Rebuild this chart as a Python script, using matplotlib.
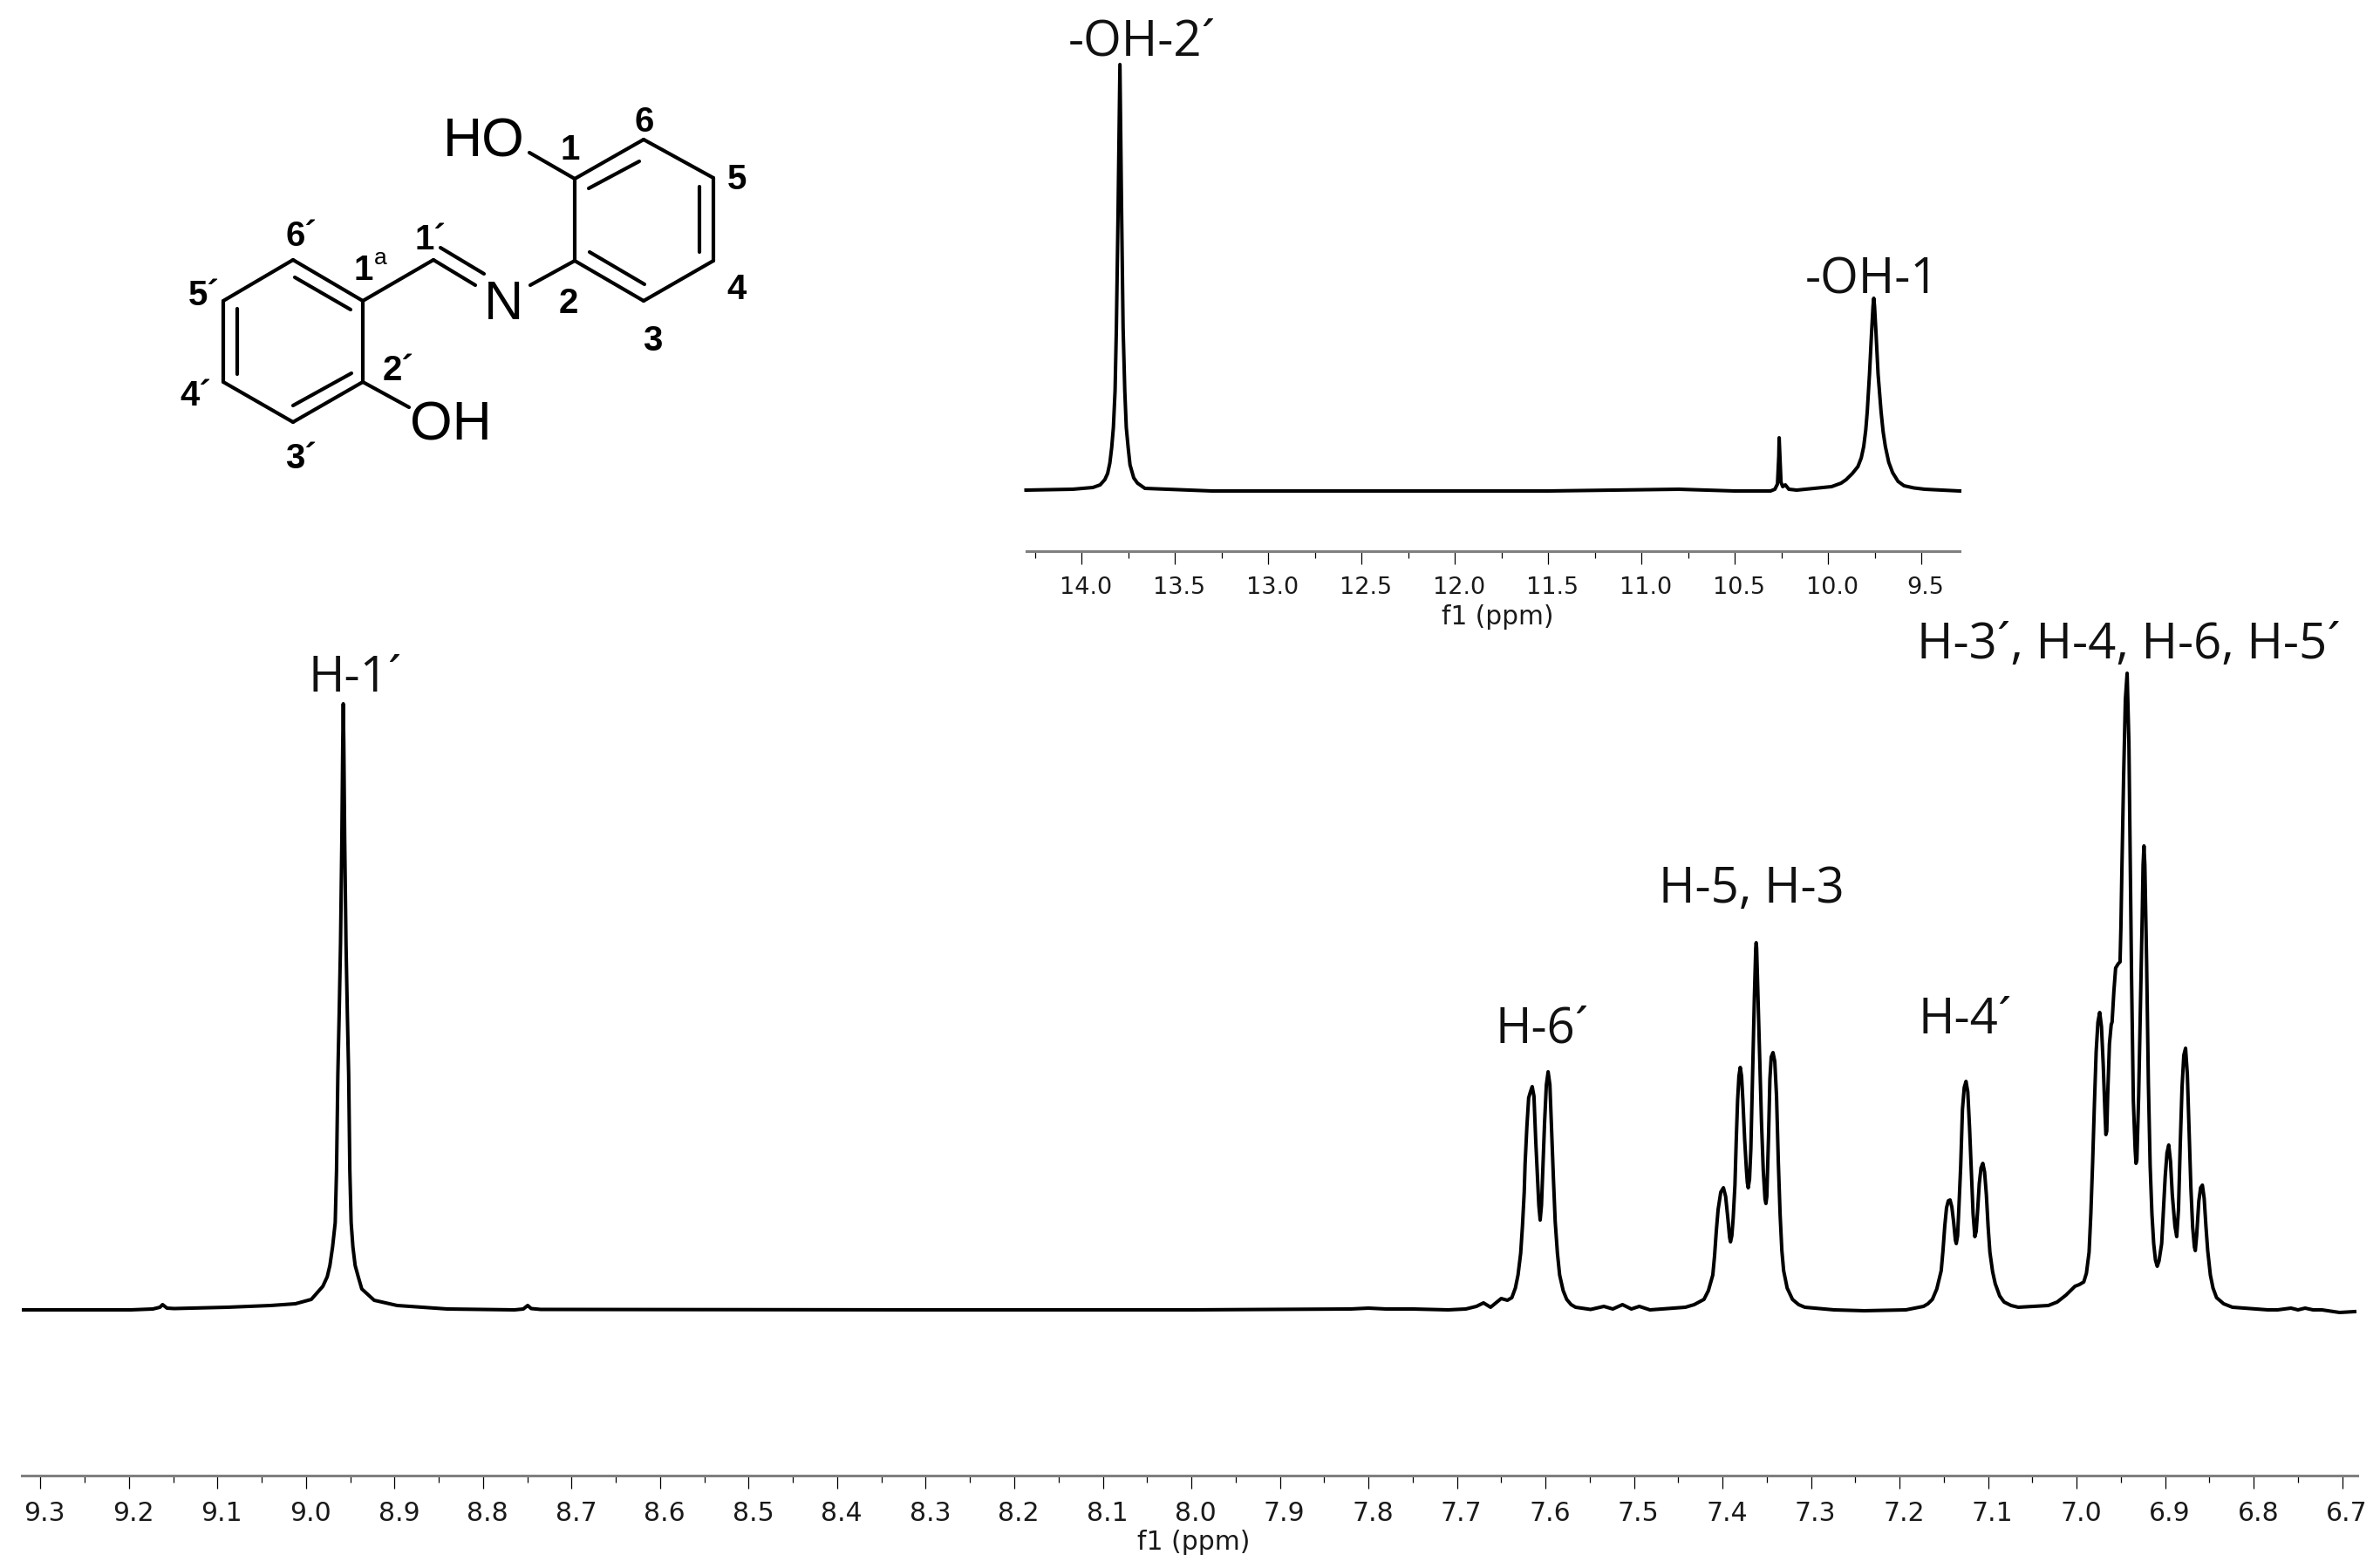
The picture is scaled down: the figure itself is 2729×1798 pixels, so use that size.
import matplotlib
matplotlib.use('Agg')
import matplotlib.pyplot as plt
import matplotlib.transforms as mtrans
import numpy as np

W, H = 2729, 1799

# main spectrum, one stretch at a time
left_ppm = [9.319, 9.198, 9.173, 9.165, 9.162, 9.157, 9.149, 9.089, 9.040, 9.012, 8.994, 8.981, 8.976, 8.973, 8.970,
            8.967, 8.9655, 8.9640, 8.9625, 8.9610, 8.9595, 8.9585, 8.9579, 8.9573, 8.9563, 8.9548, 8.9533, 8.9518,
            8.9505, 8.949, 8.947, 8.9445, 8.941, 8.937, 8.923, 8.897, 8.8403, 8.7644, 8.7546, 8.7496, 8.7457, 8.735,
            8.30, 8.00, 7.82, 7.80, 7.78, 7.75, 7.710, 7.690, 7.678, 7.670, 7.662, 7.650, 7.643]
left_int = [0, 0, 1, 3, 6, 2, 1.5, 3, 5, 7, 12, 27, 38, 51, 72,
            100, 160, 270, 340, 420, 540, 650, 695, 650, 540, 420, 340, 270,
            160, 100, 72, 51, 38, 24, 11, 5, 1, 0, 1, 5, 1.5, 0.5,
            0, 0, 1, 2, 1, 1, 0, 1, 4, 8, 3, 13, 11]

h6_ppm = [7.638, 7.634, 7.631, 7.628, 7.626, 7.624, 7.623, 7.621, 7.619, 7.617, 7.615, 7.613, 7.611, 7.6075, 7.606,
          7.6045, 7.603, 7.601, 7.599, 7.597, 7.595, 7.593, 7.591, 7.589, 7.5865, 7.584, 7.580, 7.576, 7.571, 7.566]
h6_int = [14, 25, 40, 65, 96, 135, 168, 210, 243, 250, 256, 245, 194, 120, 103,
          120, 160, 215, 258, 273, 258, 204, 150, 101, 65, 40, 22, 12, 6, 3]

gap1_ppm = [7.549, 7.534, 7.524, 7.513, 7.503, 7.494, 7.482]
gap1_int = [0.5, 4, 1, 6, 1, 4, 0]

h53_ppm = [7.442, 7.432, 7.421, 7.416, 7.411, 7.409, 7.407, 7.405, 7.402, 7.399, 7.3965, 7.394, 7.392, 7.391, 7.3895,
           7.388, 7.386, 7.3845, 7.383, 7.3815, 7.380, 7.3785, 7.377, 7.375, 7.373, 7.372, 7.371, 7.3695, 7.368,
           7.366, 7.364, 7.3625, 7.362, 7.3615, 7.360, 7.358, 7.356, 7.354, 7.352, 7.351, 7.350, 7.348, 7.3465,
           7.345, 7.343, 7.341, 7.339, 7.337, 7.335, 7.333, 7.331, 7.327, 7.321, 7.314, 7.307]
h53_int = [3, 6, 12, 22, 40, 62, 91, 115, 135, 140, 130, 105, 83, 78, 85,
           105, 143, 195, 240, 268, 278, 268, 240, 195, 160, 146, 140, 150, 185,
           271, 360, 415, 421, 415, 360, 290, 215, 160, 127, 122, 130, 200, 265,
           290, 295, 285, 245, 170, 110, 68, 45, 25, 12, 6, 3]

gap2_ppm = [7.274, 7.240, 7.193]
gap2_int = [0, -1, 0]

h4_ppm = [7.173, 7.168, 7.163, 7.158, 7.153, 7.151, 7.149, 7.147, 7.145, 7.143, 7.141, 7.139, 7.137, 7.136, 7.1345,
          7.133, 7.131, 7.129, 7.127, 7.125, 7.123, 7.121, 7.119, 7.117, 7.115, 7.1135, 7.112, 7.110, 7.108, 7.106,
          7.104, 7.102, 7.100, 7.098, 7.095, 7.092, 7.087, 7.082, 7.074, 7.066]
h4_int = [4, 7, 12, 24, 45, 68, 96, 117, 125, 126, 118, 101, 80, 76, 85,
          118, 165, 230, 255, 262, 250, 209, 160, 110, 84, 90, 112, 145, 163, 168,
          158, 132, 95, 66, 44, 30, 16, 9, 5, 3]

group_ppm = [7.032, 7.022, 7.012, 7.007, 7.002, 6.997, 6.992, 6.989, 6.986, 6.984, 6.982, 6.980, 6.978, 6.976, 6.974,
             6.972, 6.970, 6.968, 6.967, 6.966, 6.965, 6.963, 6.961, 6.960, 6.958, 6.956, 6.953, 6.951, 6.950, 6.949,
             6.947, 6.945, 6.943, 6.941, 6.940, 6.938, 6.936, 6.934, 6.933, 6.932, 6.930, 6.928, 6.926, 6.925, 6.924,
             6.923, 6.921, 6.919, 6.917, 6.915, 6.913, 6.911, 6.909, 6.907, 6.904, 6.902, 6.900, 6.898, 6.896, 6.894,
             6.892, 6.889, 6.887, 6.885, 6.883, 6.881, 6.879, 6.877, 6.875, 6.873, 6.871, 6.869, 6.867, 6.866, 6.8645,
             6.862, 6.860, 6.858, 6.856, 6.854, 6.852, 6.849, 6.846, 6.842, 6.834, 6.824]
group_int = [5, 9, 17, 22, 27, 29, 32, 42, 66, 110, 168, 235, 296, 330, 341,
             325, 281, 225, 201, 205, 245, 305, 327, 330, 365, 392, 397, 399, 440, 501,
             610, 700, 730, 650, 560, 380, 240, 185, 168, 172, 245, 345, 450, 510, 532,
             510, 399, 260, 165, 110, 76, 57, 50, 56, 76, 115, 153, 180, 189, 170,
             132, 96, 84, 115, 190, 255, 292, 300, 270, 205, 140, 95, 72, 68, 85,
             125, 140, 143, 128, 96, 68, 40, 25, 14, 7, 3]

right_ppm = [6.784, 6.773, 6.758, 6.750, 6.742, 6.733, 6.723, 6.703, 6.686]
right_int = [0, 0, 2, 0, 2, 0, 0, -3, -2]

main_ppm = left_ppm + h6_ppm + gap1_ppm + h53_ppm + gap2_ppm + h4_ppm + group_ppm + right_ppm
main_int = left_int + h6_int + gap1_int + h53_int + gap2_int + h4_int + group_int + right_int

# inset spectrum (OH region)
inset_ppm = [14.297, 14.047, 13.939, 13.90, 13.875, 13.860, 13.848, 13.838, 13.829, 13.82, 13.813, 13.804, 13.794,
             13.785, 13.777, 13.768, 13.76, 13.75, 13.74, 13.72, 13.70, 13.66,
             13.3, 12.5, 11.5, 10.8, 10.5, 10.308, 10.285, 10.271, 10.264, 10.262, 10.258, 10.252, 10.243, 10.229,
             10.210, 10.168, 9.981, 9.93, 9.903, 9.87, 9.84, 9.822, 9.809, 9.798, 9.79, 9.778, 9.767, 9.759, 9.755,
             9.751, 9.743, 9.732, 9.716, 9.705, 9.693, 9.675, 9.654, 9.625, 9.593, 9.54, 9.482, 9.295]
inset_int = [1, 2, 4, 7, 13, 20, 32, 50, 73, 115, 187, 319, 489,
             319, 187, 115, 73, 50, 30, 15, 9, 3,
             0, 0, 0, 2, 0, 0, 2, 8, 40, 61, 40, 10, 5, 7,
             2, 1, 5, 9, 13, 20, 28, 38, 51, 70, 91, 134, 181, 212, 221,
             212, 181, 134, 91, 68, 51, 33, 21, 11, 6, 3.5, 2, 0]

main_ticks = [9.3, 9.2, 9.1, 9.0, 8.9, 8.8, 8.7, 8.6, 8.5, 8.4, 8.3, 8.2, 8.1, 8.0, 7.9, 7.8, 7.7, 7.6, 7.5, 7.4,
              7.3, 7.2, 7.1, 7.0, 6.9, 6.8, 6.7]
inset_ticks = [14.0, 13.5, 13.0, 12.5, 12.0, 11.5, 11.0, 10.5, 10.0, 9.5]

peak_labels = ['-OH-2\u00b4', '-OH-1', 'H-1\u00b4', 'H-3\u00b4, H-4, H-6, H-5\u00b4', 'H-5, H-3', 'H-6\u00b4', 'H-4\u00b4']
peak_label_pos = [(1309, 49), (2147, 322), (407, 779), (2441, 741), (2008, 1021), (1768, 1181), (2253, 1171)]

# molecule drawing, in figure pixels
bonds = [
    ((659, 206), (738, 161)), ((738, 161), (818, 205)), ((818, 205), (818, 300)), ((818, 300), (738, 346)),
    ((738, 346), (659, 300)), ((659, 300), (659, 206)), ((675, 217), (733, 186)), ((802, 215), (802, 290)),
    ((676, 290), (739, 327)), ((659, 206), (607, 176)), ((659, 300), (608, 328)), ((497, 299), (545, 328)),
    ((505, 285), (555, 315)), ((497, 299), (416, 346)), ((416, 346), (336, 299)), ((336, 299), (256, 346)),
    ((256, 346), (256, 439)), ((256, 439), (336, 485)), ((336, 485), (416, 439)), ((416, 439), (416, 346)),
    ((402, 356), (338, 319)), ((272, 355), (272, 430)), ((403, 429), (336, 466)), ((416, 439), (469, 468)),
]
atoms = [('HO', 555, 163), ('N', 578, 349), ('OH', 517, 488)]
numbers = [('6', 739, 140), ('1', 654, 172), ('5', 845, 206), ('4', 845, 332), ('3', 748, 391), ('2', 652, 348),
           ('1\u00b4', 493, 275), ('6\u00b4', 345, 271), ('5\u00b4', 234, 339), ('4\u00b4', 224, 454),
           ('3\u00b4', 345, 526), ('2\u00b4', 456, 425), ('1', 417, 310)]


def spectrum_axes(fig, left, right, bottom, top, xlim, ylim, ticks, minor, size, label_size, label_x, label_y):
    ax = fig.add_axes([left / W, 1 - bottom / H, (right - left) / W, (bottom - top) / H])
    ax.set_xlim(xlim)
    ax.set_ylim(ylim)
    ax.patch.set_alpha(0)
    for s in ['top', 'left', 'right']:
        ax.spines[s].set_visible(False)
    ax.spines['bottom'].set_color('#808080')
    ax.spines['bottom'].set_linewidth(2.2)
    ax.set_yticks([])
    ax.set_xticks(ticks, [f'{t:.1f}' for t in ticks])
    ax.set_xticks(minor, minor=True)
    ax.tick_params(axis='x', which='major', length=11, width=0.9, pad=9, labelsize=size, labelcolor='#1a1a1a')
    ax.tick_params(axis='x', which='minor', length=6, width=0.9)
    # tick labels sit a few pixels right of their ticks
    shift = mtrans.ScaledTranslation(5 / 100, 0, fig.dpi_scale_trans)
    for lab in ax.get_xticklabels():
        lab.set_transform(lab.get_transform() + shift)
    ax.set_xlabel('f1 (ppm)', fontsize=label_size, color='#1a1a1a')
    ax.xaxis.set_label_coords((label_x - left) / (right - left), (bottom - label_y) / (bottom - top), ax.transAxes)
    ax.xaxis.label.set_va('center')
    return ax


fig = plt.figure(figsize=(W / 100, H / 100), dpi=100, facecolor='white')

ax = spectrum_axes(fig, 25, 2703, 1693, 760, (9.321, 6.683), (-190, 743), main_ticks,
                   np.arange(9.25, 6.7, -0.1), 21.5, 21.5, 1369, 1769)
ax.plot(main_ppm, main_int, color='black', lw=2.9, solid_joinstyle='round', clip_on=False)

ax2 = spectrum_axes(fig, 1176.5, 2247, 633, 60, (14.297, 9.295), (-69, 504), inset_ticks,
                    np.arange(14.25, 9.3, -0.5), 19.5, 21.3, 1717, 707)
ax2.plot(inset_ppm, inset_int, color='black', lw=2.9, solid_joinstyle='round', clip_on=False)

# overlay in figure pixels for the drawing and the peak names
over = fig.add_axes([0, 0, 1, 1])
over.set_xlim(0, W)
over.set_ylim(H, 0)
over.axis('off')
over.patch.set_alpha(0)

for a, b in bonds:
    over.plot([a[0], b[0]], [a[1], b[1]], color='black', lw=3, solid_capstyle='round')
for t, x, y in atoms:
    over.text(x, y, t, ha='center', va='center', fontsize=45, family='Liberation Sans', color='black')
for t, x, y in numbers:
    over.text(x, y, t, ha='center', va='center', fontsize=29, family='Liberation Sans', fontweight='bold', color='black')
over.text(436, 296, 'a', ha='center', va='center', fontsize=19, family='Liberation Sans', color='black')

for t, (x, y) in zip(peak_labels, peak_label_pos):
    over.text(x, y, t, ha='center', va='center', fontsize=40.5, family='Open Sans', color='#111111')

fig.savefig('out.png', dpi=100)
